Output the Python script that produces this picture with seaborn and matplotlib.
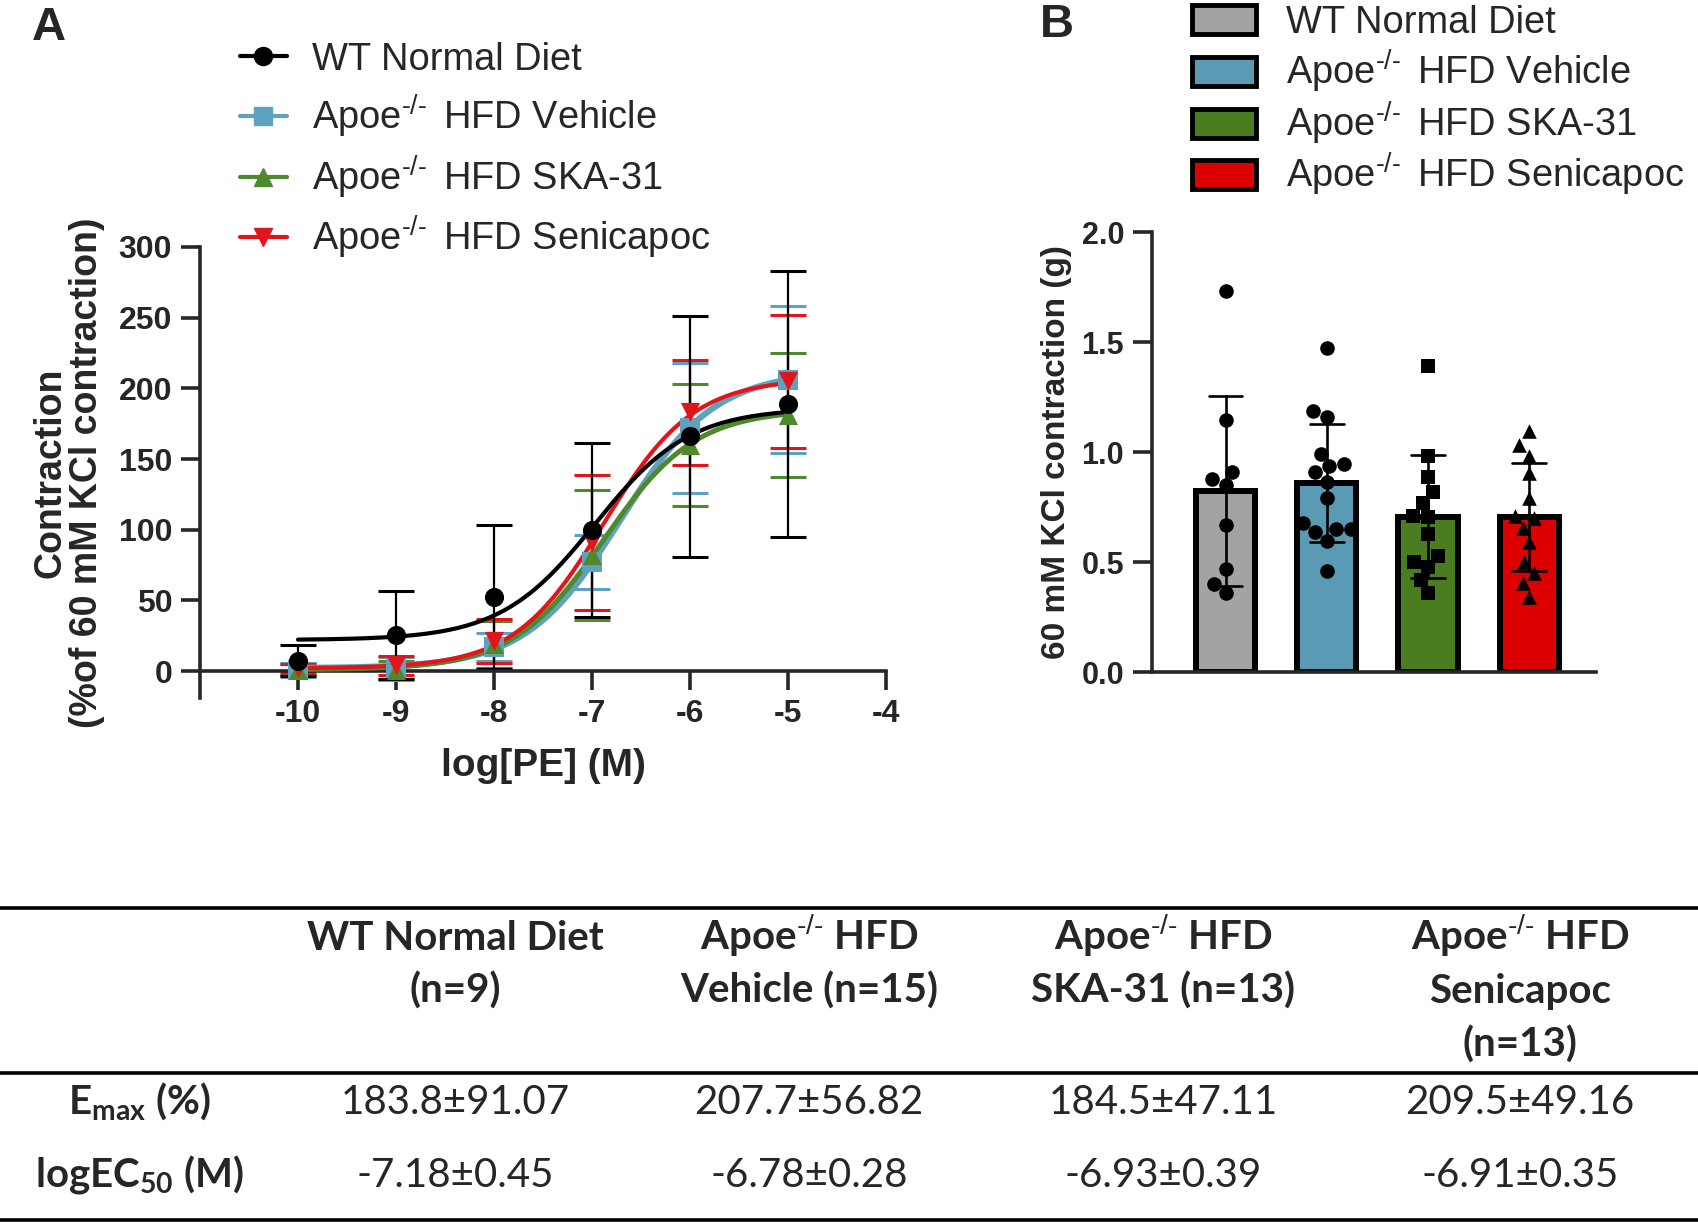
"""
Vascular contraction figure: PE concentration-response (A), KCl contraction (B)
and the fitted Emax / logEC50 summary table.
"""

import matplotlib
matplotlib.use("Agg")
import matplotlib.pyplot as plt
import seaborn as sns
import numpy as np
import pandas as pd
from matplotlib.lines import Line2D
from matplotlib.patches import Rectangle

# ---- panel A: contraction (% of 60 mM KCl), mean and SD per log[PE] ----
log_pe = [-10, -9, -8, -7, -6, -5]
wt_mean = [7.5, 25.5, 52.5, 100, 166, 189]
wt_sd = [11, 31, 51, 61.5, 85.5, 94]
veh_mean = [1, 2, 17, 77, 172, 206]
veh_sd = [5, 8, 10, 19, 46, 52]
ska_mean = [1, 1, 19, 82, 160, 181]
ska_sd = [4, 6.5, 16.5, 46, 43, 44]
sen_mean = [2, 4, 21.5, 91, 183, 205]
sen_sd = [3, 7, 15.5, 48, 37, 47]

# fitted sigmoid curves: bottom, top, logEC50, hill slope
wt_fit = [22, 186, -6.97, 0.9]
veh_fit = [2, 212, -6.71, 0.9]
ska_fit = [1, 185, -6.88, 0.93]
sen_fit = [2, 207, -6.88, 0.95]

# ---- panel B: 60 mM KCl contraction (g), one value per animal ----
kcl_wt = [1.73, 1.145, 0.91, 0.877, 0.85, 0.667, 0.468, 0.40, 0.358]
kcl_veh = [1.471, 1.185, 1.158, 0.991, 0.947, 0.936, 0.908, 0.865, 0.789,
           0.676, 0.649, 0.649, 0.638, 0.595, 0.459]
kcl_ska = [1.392, 0.983, 0.888, 0.817, 0.768, 0.71, 0.706, 0.627, 0.529,
           0.501, 0.479, 0.418, 0.358]
kcl_sen = [1.095, 1.032, 0.982, 0.903, 0.792, 0.71, 0.698, 0.653, 0.592,
           0.50, 0.449, 0.403, 0.342]

groups = ["WT Normal Diet", "Apoe HFD Vehicle", "Apoe HFD SKA-31", "Apoe HFD Senicapoc"]
legend_labels = ["WT Normal Diet", r"Apoe$^{\text{-/-}}\,$ HFD Vehicle",
                 r"Apoe$^{\text{-/-}}\,$ HFD SKA-31", r"Apoe$^{\text{-/-}}\,$ HFD Senicapoc"]

# ---- summary table ----
header_lines = [
    ["WT Normal Diet", "(n=9)"],
    [r"Apoe$^{\text{-/-}}$ HFD", "Vehicle (n=15)"],
    [r"Apoe$^{\text{-/-}}$ HFD", "SKA-31 (n=13)"],
    [r"Apoe$^{\text{-/-}}$ HFD", "Senicapoc", "(n=13)"],
]
row_labels = [r"E$_{\mathsf{max}}$ (%)", r"logEC$_{\mathsf{50}}$ (M)"]
emax_txt = ["183.8±91.07", "207.7±56.82", "184.5±47.11", "209.5±49.16"]
logec_txt = ["-7.18±0.45", "-6.78±0.28", "-6.93±0.39", "-6.91±0.35"]

bar_colors = ["#A3A3A5", "#5A9AB4", "#4A7D20", "#DC0000"]
line_colors = ["#000000", "#5FA2BF", "#4E8A2C", "#E3141B"]
markers_a = ["o", "s", "^", "v"]
markers_b = ["o", "o", "s", "^"]

sns.set_style("ticks")
plt.rcParams["font.family"] = ["Liberation Sans", "DejaVu Sans"]
plt.rcParams["axes.unicode_minus"] = False
plt.rcParams["mathtext.fontset"] = "custom"
plt.rcParams["mathtext.rm"] = "Liberation Sans"
plt.rcParams["mathtext.it"] = "Liberation Sans:italic"
plt.rcParams["mathtext.bf"] = "Liberation Sans:bold"
plt.rcParams["mathtext.sf"] = "Lato:bold"

W, H = 1699, 1225
fig = plt.figure(figsize=(W / 100, H / 100), dpi=100)


def fx(px):
    return px / W


def fy(px):
    return 1 - px / H


# ================= panel A =================
axA = fig.add_axes([0.1177, 0.4302, 0.4038, 0.3682])
series = [(wt_mean, wt_sd, wt_fit), (veh_mean, veh_sd, veh_fit),
          (ska_mean, ska_sd, ska_fit), (sen_mean, sen_sd, sen_fit)]
curve_lw = [3.0, 4.5, 3.6, 3.0]
xs = np.linspace(log_pe[0], log_pe[-1], 200)

for rank, i in enumerate([1, 2, 3, 0]):
    mean, sd, fit = series[i]
    bottom, top, ec50, hill = fit
    curve = bottom + (top - bottom) / (1 + 10 ** (hill * (ec50 - xs)))
    axA.errorbar(log_pe, mean, yerr=sd, fmt="none", ecolor=line_colors[i],
                 elinewidth=1.6, capsize=13, capthick=2.2, zorder=2 + rank * 0.1)
    sns.lineplot(x=xs, y=curve, color=line_colors[i], lw=curve_lw[i], ax=axA,
                 zorder=3 + rank * 0.1)
    sns.scatterplot(x=log_pe, y=mean, marker=markers_a[i], color=line_colors[i],
                    s=190, linewidth=0, ax=axA, zorder=5 + rank * 0.1, clip_on=False)

axA.set_xlim(-11, -4)
axA.set_ylim(-19, 300)
axA.set_xticks(range(-10, -3))
axA.set_yticks(range(0, 301, 50))
axA.spines[["top", "right"]].set_visible(False)
axA.spines["bottom"].set_position(("data", 0))
for sp in axA.spines.values():
    sp.set_linewidth(2.6)
axA.tick_params(length=14, width=2.6, labelsize=23, pad=6)
for lab in axA.get_xticklabels() + axA.get_yticklabels():
    lab.set_fontweight("bold")
axA.set_xlabel("log[PE] (M)", fontsize=28, fontweight="bold", labelpad=14)
axA.set_ylabel("Contraction\n(%of 60 mM KCl contraction)", fontsize=27,
               fontweight="bold", labelpad=10, linespacing=1.0)

# legend A, one row per group
for lab, c, m, yc in zip(legend_labels, line_colors, markers_a, [56, 116, 177, 237]):
    fig.add_artist(Line2D([fx(240), fx(287)], [fy(yc), fy(yc)],
                          transform=fig.transFigure, color=c, lw=3))
    fig.add_artist(Line2D([fx(263.5)], [fy(yc)], transform=fig.transFigure,
                          marker=m, color=c, markersize=13, lw=0))
    fig.text(fx(312), fy(yc + 13.5), lab, fontsize=27.4, va="baseline")

# ================= panel B =================
axB = fig.add_axes([0.678, 0.4514, 0.2613, 0.3592])
df_b = pd.DataFrame({
    "group": np.repeat(groups, [len(kcl_wt), len(kcl_veh), len(kcl_ska), len(kcl_sen)]),
    "kcl": np.concatenate([kcl_wt, kcl_veh, kcl_ska, kcl_sen]),
})
sns.barplot(data=df_b, x="group", y="kcl", hue="group", order=groups,
            hue_order=groups, palette=bar_colors, saturation=1, errorbar="sd",
            capsize=0.33, err_kws={"color": "k", "linewidth": 1.9}, edgecolor="k",
            linewidth=4.3, width=0.585, legend=False, ax=axB)
for g, mk in zip(groups, markers_b):
    sns.swarmplot(data=df_b[df_b["group"] == g], x="group", y="kcl", order=groups,
                  marker=mk, color="k", size=10.5, linewidth=0, ax=axB, zorder=4)

axB.set_xlim(-0.73, 3.66)
axB.set_ylim(0, 2.0)
axB.set_xticks([])
axB.set_yticks([0, 0.5, 1.0, 1.5, 2.0])
axB.set_yticklabels(["0.0", "0.5", "1.0", "1.5", "2.0"])
axB.spines[["top", "right"]].set_visible(False)
for sp in axB.spines.values():
    sp.set_linewidth(2.6)
axB.tick_params(length=14, width=2.6, labelsize=22, pad=6)
for lab in axB.get_yticklabels():
    lab.set_fontweight("bold")
axB.set_xlabel("")
axB.set_ylabel("60 mM KCl contraction (g)", fontsize=24, fontweight="bold", labelpad=7)

# legend B, one row per group
for lab, c, yc in zip(legend_labels, bar_colors, [19.5, 71.5, 123.5, 174.5]):
    fig.add_artist(Rectangle((fx(1192), fy(yc + 14.5)), 64 / W, 29 / H,
                             transform=fig.transFigure, facecolor=c,
                             edgecolor="k", lw=3.5))
    fig.text(fx(1286), fy(yc + 13.5), lab, fontsize=27.4, va="baseline")

fig.text(fx(32), fy(6), "A", fontsize=34, fontweight="bold", va="top")
fig.text(fx(1040), fy(3), "B", fontsize=34, fontweight="bold", va="top")

# ================= table =================
for y_px in [908, 1073, 1220]:
    fig.add_artist(Line2D([0, 1], [fy(y_px), fy(y_px)], transform=fig.transFigure,
                          color="k", lw=2.6))

col_x = [139, 455, 809, 1163, 1520]
head_base = [950, 1003, 1057]
row_base = [1114, 1187]
tkw = dict(fontsize=29, fontfamily="Lato", ha="center", va="baseline")

for cx, lines in zip(col_x[1:], header_lines):
    for yb, txt in zip(head_base, lines):
        fig.text(fx(cx), fy(yb), txt, fontweight="bold", **tkw)

for yb, lab, vals in zip(row_base, row_labels, [emax_txt, logec_txt]):
    fig.text(fx(col_x[0]), fy(yb), lab, fontweight="bold", **tkw)
    for cx, v in zip(col_x[1:], vals):
        fig.text(fx(cx), fy(yb), v, **tkw)

fig.savefig("out.png", dpi=100)
